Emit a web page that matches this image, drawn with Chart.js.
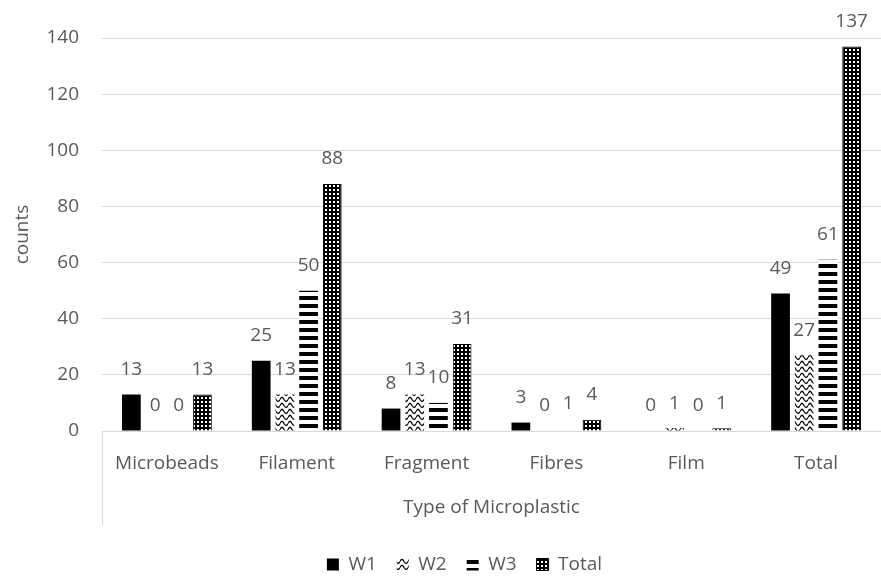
<!DOCTYPE html>
<html>
<head>
<meta charset="utf-8">
<script src="https://cdn.jsdelivr.net/npm/chart.js@4/dist/chart.umd.min.js"></script>
<style>
  html, body { margin: 0; padding: 0; background: #ffffff; }
  #wrap { width: 881px; height: 578px; }
</style>
</head>
<body>
<div id="wrap"><canvas id="c" width="881" height="578"></canvas></div>
<script>
// Microplastic counts per type and sampling site
const categories = ['Microbeads', 'Filament', 'Fragment', 'Fibres', 'Film', 'Total'];
const seriesNames = ['W1', 'W2', 'W3', 'Total'];
const w1Counts = [13, 25, 8, 3, 0, 49];
const w2Counts = [0, 13, 13, 0, 1, 27];
const w3Counts = [0, 50, 10, 1, 0, 61];
const totalCounts = [13, 88, 31, 4, 1, 137];
const yTickValues = [0, 20, 40, 60, 80, 100, 120, 140];

const TEXT = '#595959';
const GRID = '#d9d9d9';
const FONT = { family: "'Open Sans', 'Liberation Sans', sans-serif", size: 19 };

// Monochrome fill patterns
function makePattern(w, h, paint) {
  const cv = document.createElement('canvas');
  cv.width = w; cv.height = h;
  const g = cv.getContext('2d');
  paint(g, w, h);
  return g.createPattern(cv, 'repeat');
}
const ctx0 = document.getElementById('c').getContext('2d');

const solidFill = '#000000';
const waveFill = makePattern(8, 6, (g) => {
  g.fillStyle = '#ffffff'; g.fillRect(0, 0, 8, 6);
  g.strokeStyle = '#000000'; g.lineWidth = 1.3;
  g.beginPath();
  g.moveTo(0, 3.5);
  g.bezierCurveTo(1.5, 0.5, 2.5, 0.5, 4, 3.5);
  g.bezierCurveTo(5.5, 6.0, 6.5, 6.0, 8, 3.5);
  g.stroke();
});
const stripeFill = makePattern(4, 8, (g) => {
  g.fillStyle = '#ffffff'; g.fillRect(0, 0, 4, 8);
  g.fillStyle = '#000000'; g.fillRect(0, 0, 4, 4);
});
const gridFill = makePattern(4, 4, (g) => {
  g.fillStyle = '#000000'; g.fillRect(0, 0, 4, 4);
  g.fillStyle = '#ffffff'; g.fillRect(1, 1, 2, 2);
});

// Value labels drawn above each bar
const valueLabels = {
  id: 'valueLabels',
  afterDatasetsDraw(chart) {
    const { ctx } = chart;
    ctx.save();
    ctx.fillStyle = TEXT;
    ctx.font = `${FONT.size}px ${FONT.family}`;
    ctx.textAlign = 'center';
    ctx.textBaseline = 'middle';
    chart.data.datasets.forEach((ds, i) => {
      chart.getDatasetMeta(i).data.forEach((bar, j) => {
        ctx.fillText(String(ds.data[j]), bar.x, bar.y - 25);
      });
    });
    ctx.restore();
  }
};

// Left edge line running down through the category label band
const categoryFrame = {
  id: 'categoryFrame',
  afterDraw(chart) {
    const { ctx, chartArea } = chart;
    ctx.save();
    ctx.strokeStyle = GRID;
    ctx.lineWidth = 1;
    ctx.beginPath();
    ctx.moveTo(Math.round(chartArea.left) + 0.5, chartArea.bottom);
    ctx.lineTo(Math.round(chartArea.left) + 0.5, chartArea.bottom + 94);
    ctx.stroke();
    ctx.restore();
  }
};

// Nudge the legend row to the right of the canvas centre
const legendOffset = {
  id: 'legendOffset',
  afterLayout(chart) {
    if (chart.legend) {
      chart.legend.left += 24;
      chart.legend.right += 24;
    }
  }
};

new Chart(ctx0, {
  type: 'bar',
  data: {
    labels: categories,
    datasets: [
      { label: seriesNames[0], data: w1Counts, backgroundColor: solidFill, borderWidth: 0 },
      { label: seriesNames[1], data: w2Counts, backgroundColor: waveFill, borderWidth: 0 },
      { label: seriesNames[2], data: w3Counts, backgroundColor: stripeFill, borderWidth: 0 },
      { label: seriesNames[3], data: totalCounts, backgroundColor: gridFill, borderColor: '#000000', borderWidth: 1 }
    ]
  },
  options: {
    responsive: false,
    animation: false,
    devicePixelRatio: 1,
    categoryPercentage: 0.73,
    barPercentage: 0.79,
    layout: { padding: { top: 38, right: 0, left: 0, bottom: -6 } },
    scales: {
      x: {
        grid: { display: false, drawTicks: false },
        border: { display: true, color: GRID, width: 1 },
        ticks: { color: TEXT, font: FONT, padding: 21, maxRotation: 0 },
        title: {
          display: true, text: 'Type of Microplastic', color: TEXT, font: FONT,
          padding: { top: 0, bottom: 16 }
        },
        afterFit(scale) { scale.height = 104; }
      },
      y: {
        min: 0, max: 140,
        afterBuildTicks(scale) { scale.ticks = yTickValues.map(v => ({ value: v })); },
        grid: { color: GRID, drawTicks: false },
        border: { display: false },
        ticks: { color: TEXT, font: FONT, padding: 23 },
        title: {
          display: true, text: 'counts', color: TEXT, font: FONT,
          padding: { top: 11, bottom: 0 }
        },
        afterFit(scale) { scale.width = 102; }
      }
    },
    plugins: {
      legend: {
        position: 'bottom',
        labels: { color: TEXT, font: FONT, boxWidth: 12, boxHeight: 12, padding: 20 }
      },
      tooltip: { enabled: false }
    }
  },
  plugins: [valueLabels, categoryFrame, legendOffset]
});
</script>
</body>
</html>
